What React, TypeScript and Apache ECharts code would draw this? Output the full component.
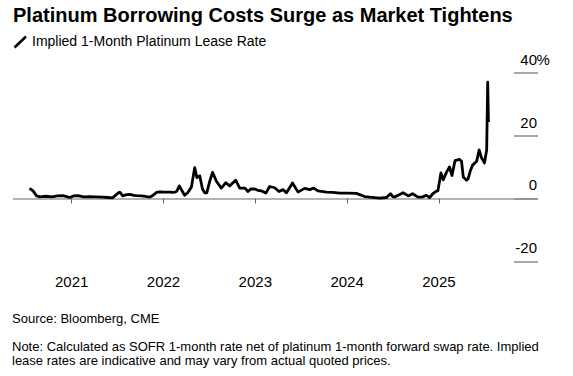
import React, { useEffect, useRef } from "react";
import * as echarts from "echarts";

const dates = [
  "2020-07-17", "2020-07-31", "2020-08-14", "2020-08-27", "2020-09-20", "2020-10-14", "2020-11-06",
  "2020-11-27", "2020-12-12", "2020-12-24", "2021-01-09", "2021-01-25", "2021-02-18", "2021-03-14",
  "2021-04-07", "2021-05-04", "2021-05-24", "2021-06-13", "2021-07-04", "2021-07-11", "2021-07-23",
  "2021-08-08", "2021-08-20", "2021-09-05", "2021-09-16", "2021-10-07", "2021-10-26", "2021-11-07",
  "2021-11-19", "2021-12-04", "2021-12-17", "2022-01-06", "2022-01-26", "2022-02-11", "2022-02-23",
  "2022-03-05", "2022-03-15", "2022-03-26", "2022-04-07", "2022-04-22", "2022-05-05", "2022-05-14",
  "2022-05-25", "2022-06-05", "2022-06-14", "2022-06-22", "2022-07-04", "2022-07-15", "2022-07-31",
  "2022-08-19", "2022-09-06", "2022-09-21", "2022-10-15", "2022-10-31", "2022-11-20", "2022-12-03",
  "2022-12-14", "2022-12-30", "2023-01-11", "2023-01-26", "2023-02-12", "2023-02-27", "2023-03-19",
  "2023-04-05", "2023-04-21", "2023-05-05", "2023-05-29", "2023-06-20", "2023-07-16", "2023-08-06",
  "2023-08-21", "2023-09-07", "2023-10-11", "2023-11-05", "2023-12-03", "2024-01-04", "2024-02-07",
  "2024-02-20", "2024-03-11", "2024-04-01", "2024-05-10", "2024-06-06", "2024-06-22", "2024-07-01",
  "2024-07-09", "2024-07-25", "2024-08-11", "2024-09-01", "2024-09-18", "2024-10-10", "2024-10-28",
  "2024-11-12", "2024-11-25", "2024-12-08", "2024-12-22", "2024-12-28", "2025-01-09", "2025-01-18",
  "2025-01-31", "2025-02-12", "2025-02-22", "2025-03-06", "2025-03-24", "2025-04-01", "2025-04-08",
  "2025-04-21", "2025-04-27", "2025-05-06", "2025-05-15", "2025-05-31", "2025-06-10", "2025-06-19",
  "2025-07-01", "2025-07-10", "2025-07-14", "2025-07-17",
];

const leaseRate = [
  3.2, 2.4, 0.8, 0.5, 0.7, 0.5, 0.8,
  0.9, 0.6, 0.3, 0.8, 0.9, 0.5, 0.6,
  0.5, 0.4, 0.3, 0.2, 1.7, 2.0, 0.8,
  1.2, 1.3, 1.0, 0.9, 0.8, 0.6, 0.4,
  0.9, 1.9, 2.1, 2.0, 2.0, 1.9, 2.3,
  4.0, 2.5, 1.0, 1.8, 3.6, 9.8, 6.6,
  7.2, 3.0, 1.8, 1.8, 5.5, 8.3, 5.4,
  3.3, 5.0, 4.0, 5.8, 3.3, 3.3, 2.2,
  3.0, 3.0, 2.6, 2.4, 1.7, 3.8, 3.4,
  2.2, 2.8, 1.8, 4.9, 2.0, 3.2, 2.8,
  3.3, 2.4, 2.0, 1.9, 1.7, 1.7, 1.6,
  1.2, 0.6, 0.4, 0.1, 0.3, 1.5, 0.6,
  0.5, 1.1, 1.8, 0.8, 1.5, 0.4, 0.5,
  1.0, 0.3, 1.5, 2.3, 2.4, 8.1, 5.9,
  8.3, 10.0, 7.3, 12.0, 12.4, 11.8, 6.8,
  5.8, 6.2, 8.8, 10.6, 11.8, 15.4, 13.0,
  11.3, 15.5, 37.0, 24.3,
];

const xTickYears = [2021, 2022, 2023, 2024, 2025];
const xAxisStart = "2020-05-12";
const xAxisEnd = "2026-01-30";
const yMin = -20;
const yMax = 40;
const yStep = 20;
const yUnit = "%";

const title = "Platinum Borrowing Costs Surge as Market Tightens";
const subtitle = "Implied 1-Month Platinum Lease Rate";
const source = "Source: Bloomberg, CME";
const note1 = "Note: Calculated as SOFR 1-month rate net of platinum 1-month forward swap rate. Implied";
const note2 = "lease rates are indicative and may vary from actual quoted prices.";

function toDecimalYear(s: string): number {
  const [y, m, d] = s.split("-").map(Number);
  const start = Date.UTC(y, 0, 1);
  const end = Date.UTC(y + 1, 0, 1);
  return y + (Date.UTC(y, m - 1, d) - start) / (end - start);
}

const FONT = "'Liberation Sans', Arial, Helvetica, sans-serif";

export default function App() {
  const ref = useRef<HTMLDivElement>(null);
  useEffect(() => {
    if (!ref.current) return;
    const chart = echarts.init(ref.current, null, { renderer: "svg" });
    const seriesData = dates.map((d, i) => [toDecimalYear(d), leaseRate[i]]);
    const xMin = toDecimalYear(xAxisStart);
    const xMax = toDecimalYear(xAxisEnd);
    chart.setOption({
      animation: false,
      backgroundColor: "#ffffff",
      textStyle: { fontFamily: FONT },
      grid: { left: 13, right: 35, top: 72.7, bottom: 114.7, containLabel: false },
      xAxis: {
        type: "value",
        min: xMin,
        max: xMax,
        axisLine: { show: false },
        splitLine: { show: false },
        axisTick: {
          show: true,
          customValues: xTickYears,
          length: 5,
          lineStyle: { color: "#666666", width: 1 },
        },
        axisLabel: {
          customValues: xTickYears,
          formatter: (v: number) => String(Math.round(v)),
          fontSize: 15,
          color: "#000000",
          fontFamily: FONT,
          margin: 13,
        },
      },
      yAxis: {
        type: "value",
        position: "right",
        min: yMin,
        max: yMax,
        interval: yStep,
        axisLine: { show: false },
        axisTick: {
          show: true,
          inside: true,
          length: 24,
          lineStyle: { color: "#8c8c8c", width: 1.5 },
        },
        splitLine: {
          show: true,
          lineStyle: {
            color: ["rgba(0,0,0,0)", "#9a9a9a", "rgba(0,0,0,0)", "rgba(0,0,0,0)"],
            width: 1.5,
          },
        },
        axisLabel: {
          inside: true,
          margin: 1,
          verticalAlign: "bottom",
          padding: [0, 0, 6, 0],
          fontSize: 15,
          color: "#000000",
          fontFamily: FONT,
          formatter: (v: number) => String(v),
        },
      },
      series: [
        {
          type: "line",
          data: seriesData,
          showSymbol: false,
          symbol: "none",
          lineStyle: { color: "#000000", width: 2.8, join: "round" },
          z: 5,
        },
      ],
      graphic: [
        {
          type: "text",
          left: 13,
          top: 5,
          style: { text: title, fontSize: 20, fontWeight: "bold", fill: "#000", fontFamily: FONT },
        },
        {
          type: "line",
          shape: { x1: 14.5, y1: 47.5, x2: 26, y2: 36.5 },
          style: { stroke: "#000", lineWidth: 2.6 },
        },
        {
          type: "text",
          left: 32,
          top: 34,
          style: { text: subtitle, fontSize: 14, fill: "#000", fontFamily: FONT },
        },
        {
          type: "text",
          left: 12,
          top: 312,
          style: { text: source, fontSize: 13, fill: "#000", fontFamily: FONT },
        },
        {
          type: "text",
          left: 12,
          top: 340,
          style: { text: note1, fontSize: 13, fill: "#000", fontFamily: FONT },
        },
        {
          type: "text",
          left: 12,
          top: 354,
          style: { text: note2, fontSize: 13, fill: "#000", fontFamily: FONT },
        },
      ],
    });
    // Unit sign after the top tick label, placed from the axis scale
    const topY = chart.convertToPixel({ yAxisIndex: 0 }, yMax) as number;
    const rightX = chart.convertToPixel({ xAxisIndex: 0 }, xMax) as number;
    chart.setOption({
      graphic: [
        {
          id: "unit",
          type: "text",
          x: rightX - 1.5,
          y: topY - 6,
          style: {
            text: yUnit,
            fontSize: 15,
            fill: "#000",
            fontFamily: FONT,
            align: "left",
            verticalAlign: "bottom",
          },
        },
      ],
    });
    return () => chart.dispose();
  }, []);
  return (
    <div
      ref={ref}
      style={{ position: "absolute", left: 0, top: 0, width: 573, height: 376, background: "#fff" }}
    />
  );
}
